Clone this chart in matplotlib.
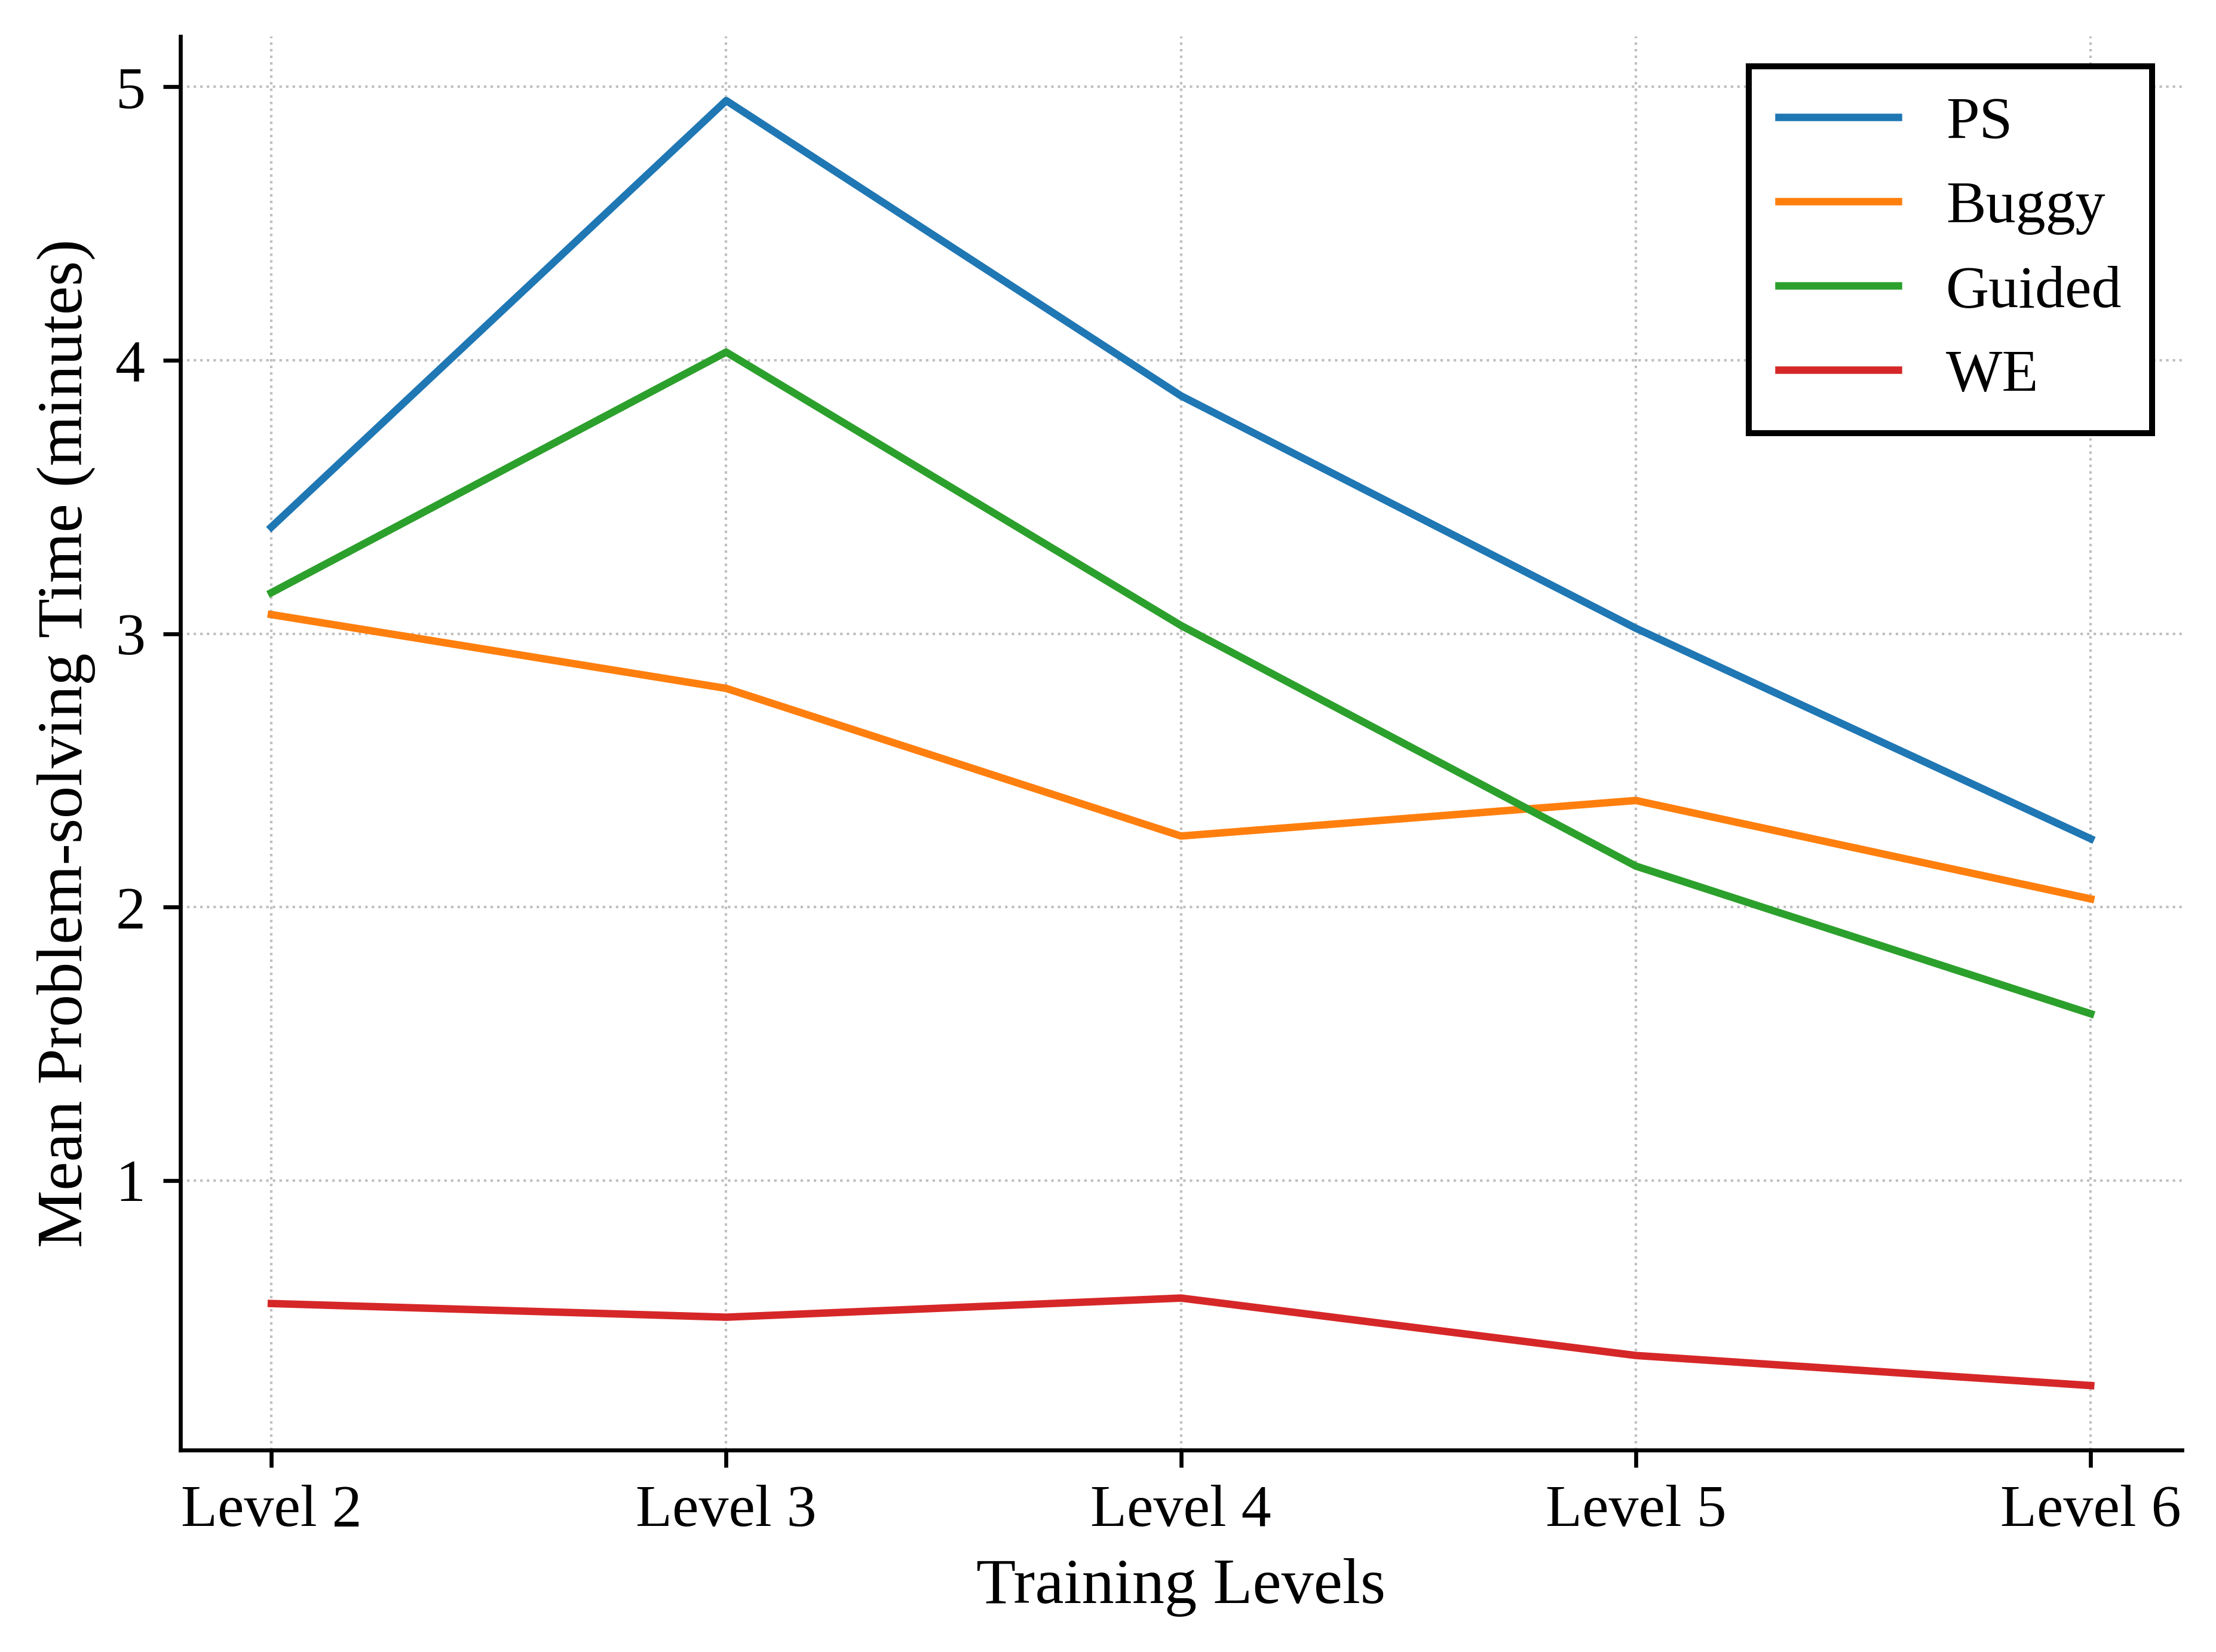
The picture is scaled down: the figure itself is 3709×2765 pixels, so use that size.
import matplotlib
matplotlib.use("Agg")
import matplotlib.pyplot as plt

levels = ["Level 2", "Level 3", "Level 4", "Level 5", "Level 6"]
ps = [3.39, 4.95, 3.87, 3.02, 2.25]
buggy = [3.07, 2.80, 2.26, 2.39, 2.03]
guided = [3.15, 4.03, 3.03, 2.15, 1.61]
we = [0.55, 0.50, 0.57, 0.36, 0.25]

plt.rcParams["font.family"] = ["Liberation Serif", "DejaVu Serif"]
plt.rcParams["font.size"] = 12

fig, ax = plt.subplots(figsize=(3709 / 600, 2765 / 600), dpi=600)
x = range(len(levels))
ax.plot(x, ps, label="PS", color="#1f77b4", linewidth=1.5)
ax.plot(x, buggy, label="Buggy", color="#ff7f0e", linewidth=1.5)
ax.plot(x, guided, label="Guided", color="#2ca02c", linewidth=1.5)
ax.plot(x, we, label="WE", color="#d62728", linewidth=1.5)

ax.set_xticks(list(x))
ax.set_xticklabels(levels)
ax.set_xlabel("Training Levels", fontsize=13)
ax.set_ylabel("Mean Problem-solving Time (minutes)", fontsize=13)
ax.set_yticks([1, 2, 3, 4, 5])
ax.grid(True, linestyle=":", linewidth=0.5, color="0.75")
ax.spines["top"].set_visible(False)
ax.spines["right"].set_visible(False)

leg = ax.legend(loc="upper right", fancybox=False, framealpha=1, edgecolor="black",
                borderpad=0.5)
leg.get_frame().set_linewidth(1.2)

fig.subplots_adjust(left=0.0814, right=0.9845, top=0.978, bottom=0.1224)
fig.savefig("out.png", dpi=600)
